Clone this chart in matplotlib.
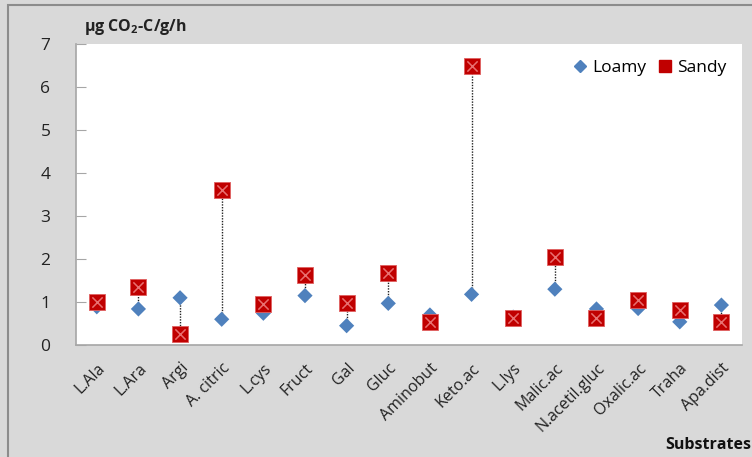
import numpy as np
import matplotlib.pyplot as plt
from matplotlib.patches import Rectangle
from matplotlib.lines import Line2D

plt.rcParams['font.family'] = ['Open Sans', 'DejaVu Sans']
plt.rcParams['mathtext.fontset'] = 'custom'
plt.rcParams['mathtext.rm'] = 'Open Sans'
plt.rcParams['mathtext.bf'] = 'Open Sans:bold'
# no kerning, so the dot in "L.Ala" stays visible
plt.rcParams['text.kerning_factor'] = 6

substrates = ['L.Ala', 'L.Ara', 'Argi', 'A. citric', 'L.cys', 'Fruct', 'Gal', 'Gluc',
              'Aminobut', 'Keto.ac', 'L.lys', 'Malic.ac', 'N.acetil.gluc', 'Oxalic.ac',
              'Traha', 'Apa.dist']
loamy = [0.89, 0.84, 1.10, 0.60, 0.74, 1.15, 0.45, 0.97,
         0.70, 1.18, 0.65, 1.30, 0.84, 0.85, 0.54, 0.93]
sandy = [1.01, 1.36, 0.25, 3.62, 0.95, 1.63, 0.99, 1.67,
         0.54, 6.50, 0.63, 2.05, 0.63, 1.05, 0.81, 0.53]

bg = '#d9d9d9'
loamy_color = '#4f81bd'
sandy_color = '#c00000'

fig = plt.figure(figsize=(7.52, 4.57), dpi=100, facecolor=bg)
ax = fig.add_axes([0.101, 0.245, 0.886, 0.658])
ax.set_facecolor('white')

x = np.arange(len(substrates))
lo = np.minimum(loamy, sandy)
hi = np.maximum(loamy, sandy)
ax.vlines(x, lo, hi, colors='#222222', linestyles=(0, (1, 1)), linewidth=1, zorder=2)

ax.scatter(x, loamy, marker='D', s=60, color=loamy_color, edgecolors='none', zorder=3)
ax.scatter(x, sandy, marker='s', s=130, color=sandy_color, edgecolors='#e06060', linewidths=0.6,
           zorder=4)
ax.scatter(x, sandy, marker='x', s=55, color='#e87070', linewidths=1.1, zorder=5)

ax.set_xlim(-0.5, len(substrates) - 0.5)
ax.set_ylim(0, 7)
ax.set_yticks(range(0, 8))
ax.set_xticks(x)
ax.set_xticklabels(substrates, rotation=45, ha='right', rotation_mode='anchor', fontsize=11.5,
                   color='#222222')
ax.tick_params(axis='x', length=0, pad=11)
ax.tick_params(axis='y', direction='in', length=7, color='#a6a6a6', labelsize=12.5,
               labelcolor='#222222', pad=22)
for lbl in ax.get_yticklabels():
    lbl.set_horizontalalignment('center')

for side in ['top', 'right']:
    ax.spines[side].set_visible(False)
for side in ['left', 'bottom']:
    ax.spines[side].set_color('#a6a6a6')
    ax.spines[side].set_linewidth(1.2)

handles = [Line2D([], [], marker='D', linestyle='none', color=loamy_color, markersize=6.5),
           Line2D([], [], marker='s', linestyle='none', color=sandy_color, markersize=8)]
ax.legend(handles, ['Loamy', 'Sandy'], loc='upper right', ncol=2, frameon=False, fontsize=12.5,
          handletextpad=0.1, columnspacing=0.5, borderaxespad=0.5, handlelength=1.2)

fig.text(0.112, 0.942, r'µg CO$_\mathbf{2}$-C/g/h', fontsize=11.5, fontweight='bold', color='#222222',
         ha='left', va='center')
fig.text(0.884, 0.027, 'Substrates', fontsize=11.5, fontweight='bold', color='#111111',
         ha='left', va='center')

fig.patches.append(Rectangle((8 / 752, -0.1), 1.2, 1.1 - 5 / 457, transform=fig.transFigure,
                             fill=False, edgecolor='#8c8c8c', linewidth=1.5, zorder=0))

fig.savefig('out.png', dpi=100, facecolor=bg)
